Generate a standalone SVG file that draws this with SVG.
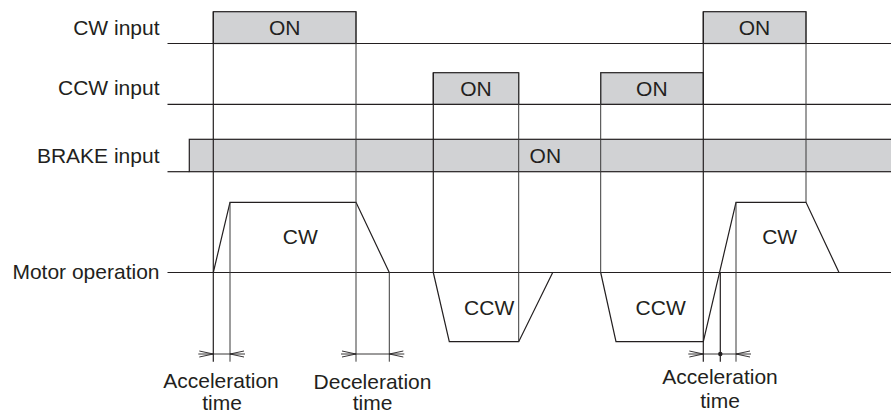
<svg xmlns="http://www.w3.org/2000/svg" width="891" height="414" viewBox="0 0 891 414">
<style>
text{font-family:"Liberation Sans",Arial,sans-serif;font-size:21px;fill:#231f20}
.m{text-anchor:middle}
.e{text-anchor:end}
.ln{fill:none;stroke:#231f20;stroke-width:1.2}
.g{fill:none;stroke:#3a3a3a;stroke-width:1}
.box{fill:#d1d2d4;stroke:#231f20;stroke-width:1.2}
.dim{fill:none;stroke:#231f20;stroke-width:0.9}
</style>
<defs>
<path id="arrR" d="M-15,0H0M-14,-3L0,0L-14,3" class="dim"/>
<path id="arrL" d="M15,0H0M14,-3L0,0L14,3" class="dim"/>
</defs>
<rect width="891" height="414" fill="#ffffff"/>

<g id="labels">
<text class="e" x="159.5" y="35">CW input</text>
<text class="e" x="159.5" y="95">CCW input</text>
<text class="e" x="159.5" y="162.7">BRAKE input</text>
<text class="e" x="159.5" y="279.3">Motor operation</text>
</g>

<g id="cw-input">
<path class="ln" d="M167.5,43.5H891"/>
<rect class="box" x="213.3" y="11.7" width="142.7" height="31.8"/>
<text class="m" x="284.7" y="34.5">ON</text>
<rect class="box" x="703.3" y="11.7" width="102.7" height="31.8"/>
<text class="m" x="754.5" y="34.5">ON</text>
</g>

<g id="ccw-input">
<path class="ln" d="M167.5,104.3H891"/>
<rect class="box" x="433.3" y="72.7" width="85.4" height="31.6"/>
<text class="m" x="476" y="95.7">ON</text>
<rect class="box" x="600.7" y="72.7" width="102.6" height="31.6"/>
<text class="m" x="651.8" y="95.7">ON</text>
</g>

<g id="brake-input">
<path class="ln" d="M167.5,171.7H189.3"/>
<rect class="box" x="189.3" y="139.3" width="710" height="32.4"/>
<text class="m" x="545.3" y="162.7">ON</text>
</g>

<g id="motor-operation">
<path class="ln" d="M167.5,272.5H891"/>
<path class="ln" d="M213.3,272.5L230,202.3H356L389.3,272.5"/>
<path class="ln" d="M433.3,272.5L449.3,341.7H518.7L552.7,272.5"/>
<path class="ln" d="M600.7,272.5L616,341.7H703.3L736,202.3H806L839,272.5"/>
<text class="m" x="300.3" y="244.3">CW</text>
<text class="m" x="779.7" y="244.3">CW</text>
<text class="m" x="489.2" y="315">CCW</text>
<text class="m" x="660.7" y="315">CCW</text>
</g>

<g id="connectors">
<path class="ln" d="M213.3,11.7V361.7"/>
<path class="g" d="M356,11.7V361.7"/>
<path class="g" d="M230,202.3V361.7"/>
<path class="g" d="M389.3,272.5V361.7"/>
<path class="ln" d="M433.3,72.7V272.5"/>
<path class="g" d="M518.7,72.7V341.7"/>
<path class="g" d="M600.7,72.7V272.5"/>
<path class="ln" d="M703.3,11.7V361.7"/>
<path class="ln" d="M720.3,272.5V361.7"/>
<path class="g" d="M736,202.3V361.7"/>
<path class="g" d="M806,11.7V202.3"/>
</g>

<g id="dim-accel-1">
<path class="dim" d="M213.3,354H230"/>
<use href="#arrR" x="213.3" y="354"/>
<use href="#arrL" x="230" y="354"/>
<text class="m" x="221" y="388">Acceleration</text>
<text class="m" x="222" y="409.5">time</text>
</g>

<g id="dim-decel">
<path class="dim" d="M356,354H389.3"/>
<use href="#arrR" x="356" y="354"/>
<use href="#arrL" x="389.3" y="354"/>
<text class="m" x="372.5" y="388.5">Deceleration</text>
<text class="m" x="372.5" y="409.5">time</text>
</g>

<g id="dim-accel-2">
<path class="dim" d="M703.3,354H736"/>
<use href="#arrR" x="703.3" y="354"/>
<use href="#arrL" x="736" y="354"/>
<circle cx="720.3" cy="354" r="2.2" fill="#231f20"/>
<text class="m" x="720" y="384.3">Acceleration</text>
<text class="m" x="720" y="408">time</text>
</g>
</svg>
